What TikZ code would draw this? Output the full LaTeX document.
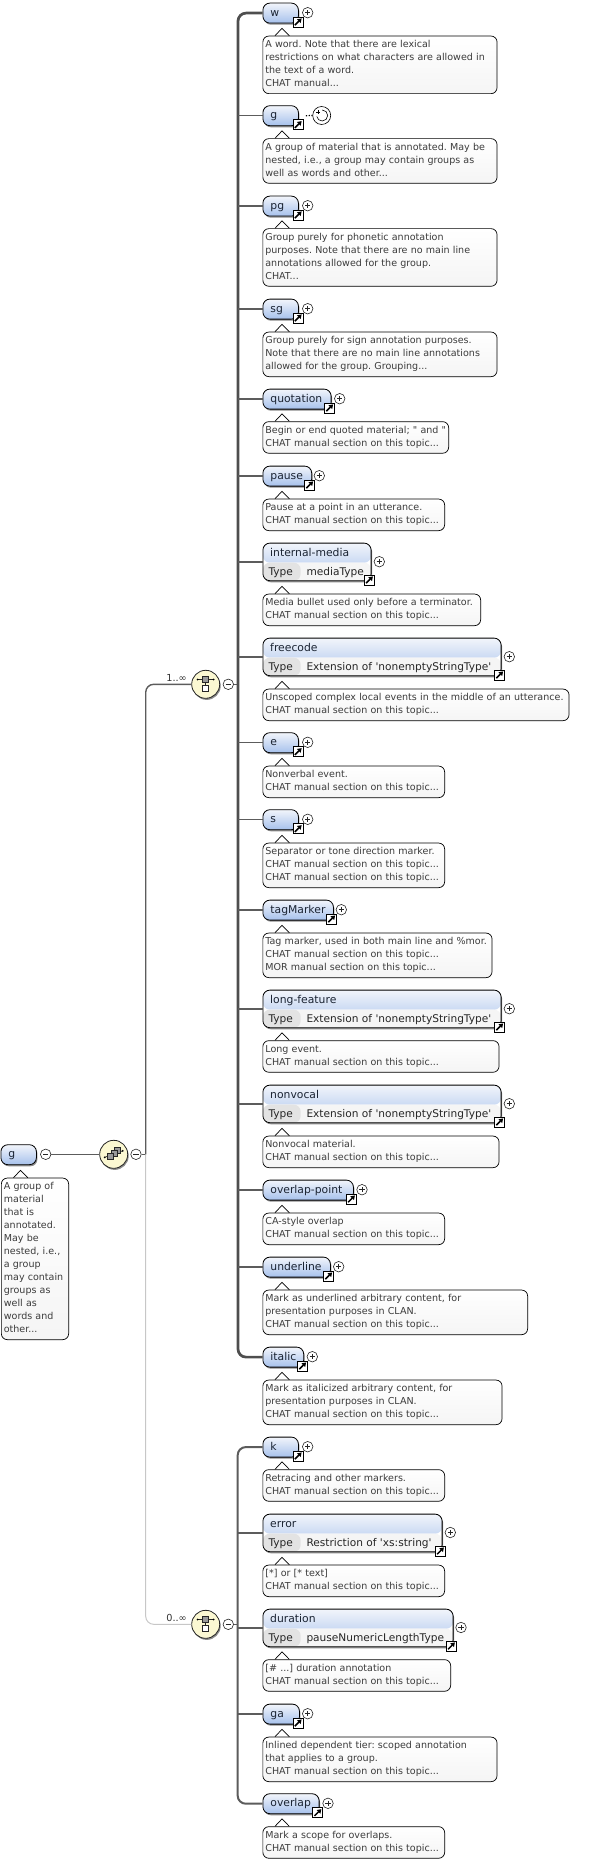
\documentclass[tikz,border=0pt]{standalone}
\usepackage{fontspec}
\usepackage{xcolor}
\usepackage{tikz}
\usetikzlibrary{arrows.meta, shadows}
\newfontfamily\schemafont{DejaVu Sans}
\definecolor{wirecol}{HTML}{5C5C5C}
\definecolor{notetext}{HTML}{3C3C3C}
\definecolor{nametext}{HTML}{1B2433}
\definecolor{elemtop}{HTML}{F2F5FB}
\definecolor{elembottom}{HTML}{A6C1EC}
\definecolor{compfill}{HTML}{FBF8D2}
\tikzset{
	softshadow/.style={drop shadow={shadow xshift=1pt, shadow yshift=-1.6pt, opacity=.45, fill=black}},
	elem/.style={draw=black, line width=.8pt, rounded corners=7pt, anchor=north west, softshadow,
		top color=elemtop, bottom color=elembottom, text=nametext, text width=#1, align=left, inner xsep=7.5pt, inner ysep=0pt,
		minimum height=20pt, font=\schemafont\fontsize{10.8}{13}\selectfont, text height=8.5pt, text depth=2.5pt},
	typed/.style={draw=black, line width=.8pt, rounded corners=7pt, anchor=north west, softshadow, fill=white,
		minimum width=#1, minimum height=37.6pt, inner sep=0pt,
		path picture={
			\shade[top color=elemtop, bottom color=elembottom] (path picture bounding box.north west) rectangle ([yshift=-19.6pt]path picture bounding box.north east);
			\fill[black!4] ([yshift=-19.6pt]path picture bounding box.north west) rectangle (path picture bounding box.south east);
			\fill[black!11] ([yshift=-19.6pt]path picture bounding box.north west) rectangle ([xshift=37.8pt]path picture bounding box.south west);
		}},
	typename/.style={anchor=base west, inner sep=0pt, text=nametext, font=\schemafont\fontsize{10.8}{13}\selectfont},
	typerow/.style={anchor=base west, inner sep=0pt, text=black!85, font=\schemafont\fontsize{10.6}{13}\selectfont},
	doctip/.style={draw=black, line width=.7pt, fill=white},
	docbox/.style={draw=black, line width=.7pt, rounded corners=6pt, anchor=north west, top color=white, bottom color=black!4,
		text=notetext, text width=#1, align=left, inner xsep=2.5pt, inner ysep=2.8pt,
		font=\schemafont\fontsize{9.55}{13}\selectfont\frenchspacing, execute at begin node=\strut, execute at end node=\strut,
		append after command={\pgfextra{\draw[doctip] (\tikzlastnode.north west) ++(12.5,0) -- ++(7,-7.4) -- ++(7.3,7.4);}}},
	btn/.style={circle, draw=black!85, line width=.6pt, fill=white, minimum size=10.5pt, inner sep=0pt},
	plusbtn/.style={btn, path picture={
		\draw[line width=.6pt] ([xshift=2.6pt]path picture bounding box.west) -- ([xshift=-2.6pt]path picture bounding box.east);
		\draw[line width=.6pt] ([yshift=-2.6pt]path picture bounding box.north) -- ([yshift=2.6pt]path picture bounding box.south);}},
	minusbtn/.style={btn, path picture={
		\draw[line width=.6pt] ([xshift=2.6pt]path picture bounding box.west) -- ([xshift=-2.6pt]path picture bounding box.east);}},
	linkicon/.style={rectangle, draw=black, line width=.8pt, fill=white, minimum size=10pt, inner sep=0pt, path picture={
		\draw[line width=1.5pt, -{Triangle[length=4pt, width=5pt]}, shift={(path picture bounding box.center)}] (-3.2,3.2) -- (3.6,-3.6);}},
	loopbtn/.style={circle, draw=black, line width=.6pt, fill=white, minimum size=18pt, inner sep=0pt, path picture={
		\draw[line width=.6pt, shift={(path picture bounding box.center)}] (.5,-5.5) arc[start angle=270, end angle=530, radius=5.5];
		\draw[line width=.8pt, shift={(path picture bounding box.center)}] (-5.5,-3) -- (-1.5,-3) (-3.5,-5) -- (-3.5,-1);}},
	comp/.style={circle, draw=black!85, line width=.8pt, fill=compfill, minimum size=28pt, inner sep=0pt, softshadow},
	compseq/.style={comp, path picture={
		\draw[line width=.7pt, shift={(path picture bounding box.center)}] (-8,-4.8) -- (8,-4.8) (0,-4.8) -- (0,1);
		\fill[black, shift={(path picture bounding box.center)}] (-8,-4.8) circle (1pt) (8,-4.8) circle (1pt);
		\draw[line width=.6pt, fill=black!40, shift={(path picture bounding box.center)}] (-3,-7.8) rectangle (3,-1.8);
		\draw[line width=.7pt, fill=white, shift={(path picture bounding box.center)}] (-3,1) rectangle (3,7);}},
	compstack/.style={comp, path picture={
		\draw[line width=.7pt, shift={(path picture bounding box.center)}] (-9,3) -- (9,-3.5);
		\fill[black, shift={(path picture bounding box.center)}] (-9,3) circle (1pt) (9,-3.5) circle (1pt);
		\draw[line width=.6pt, fill=black!40, shift={(path picture bounding box.center)}] (.5,-7.5) rectangle (6.5,-1.5);
		\draw[line width=.6pt, fill=black!40, shift={(path picture bounding box.center)}] (-2.5,-4.5) rectangle (3.5,1.5);
		\draw[line width=.6pt, fill=black!40, shift={(path picture bounding box.center)}] (-6.5,-1) rectangle (-.5,5);}},
	occurs/.style={anchor=east, inner sep=0pt, text=black!80, font=\schemafont\fontsize{9.7}{13}\selectfont},
	branch/.style={draw=wirecol, line width=1.4pt},
	busone/.style={draw=wirecol!85!black, line width=2.7pt, rounded corners=8pt},
	bustwo/.style={draw=wirecol, line width=2pt, rounded corners=8pt},
	faintbranch/.style={draw=black!22, line width=1pt, rounded corners=8pt}
}
\begin{document}
\begin{tikzpicture}[x=1pt, y=-1pt]
	\useasboundingbox (0, 0) rectangle (592, 1862);
	% Root and compositors:
	\node[elem={20.5pt}](root) at (.5, 1144.3){g};
	\node[docbox={62.3pt}](rootdoc) at (1, 1177.7){A group of\\material\\that is\\annotated.\\May be\\nested, i.e.,\\a group\\may contain\\groups as\\well as\\words and\\other...};
	\node[minusbtn](rootminus) at (45.7, 1154.3){};
	\node[compstack](compR) at (113.7, 1154.3){};
	\node[minusbtn](compRminus) at (136, 1154.3){};
	\coordinate (busR) at (145.7, 1154.3);
	\node[compseq](compA) at (205.7, 684.3){};
	\node[minusbtn](compAminus) at (228.3, 684.3){};
	\coordinate (busA) at (238, 684.3);
	\node[occurs](occursA) at (187, 677.5){1..∞};
	\node[compseq](compB) at (205.7, 1624.3){};
	\node[minusbtn](compBminus) at (228.3, 1624.3){};
	\coordinate (busB) at (237.7, 1624.3);
	\node[occurs](occursB) at (187, 1617.5){0..∞};
	% First group of elements:
	\node[elem={20.5pt}](w) at (262.5, 2.7){w};
	\node[linkicon](wlink) at (298, 22){};
	\node[plusbtn](wplus) at (307.7, 12.7){};
	\node[docbox={229.2pt}](wdoc) at (262.5, 35.7){A word. Note that there are lexical\\restrictions on what characters are allowed in\\the text of a word.\\CHAT manual...};
	\node[elem={20.5pt}](g) at (262.5, 105.3){g};
	\node[linkicon](glink) at (298, 124.7){};
	\node[loopbtn](gloop) at (321.7, 115.5){};
	\node[docbox={229.2pt}](gdoc) at (262.5, 138.3){A group of material that is annotated. May be\\nested, i.e., a group may contain groups as\\well as words and other...};
	\node[elem={20.5pt}](pg) at (262.5, 195.7){pg};
	\node[linkicon](pglink) at (298, 215){};
	\node[plusbtn](pgplus) at (307.7, 205.7){};
	\node[docbox={229.2pt}](pgdoc) at (262.5, 228.3){Group purely for phonetic annotation\\purposes. Note that there are no main line\\annotations allowed for the group.\\CHAT...};
	\node[elem={20.5pt}](sg) at (262.5, 298.7){sg};
	\node[linkicon](sglink) at (298, 318){};
	\node[plusbtn](sgplus) at (307.7, 308.7){};
	\node[docbox={229.2pt}](sgdoc) at (262.5, 331.7){Group purely for sign annotation purposes.\\Note that there are no main line annotations\\allowed for the group. Grouping...};
	\node[elem={53.2pt}](quotation) at (262.5, 388.7){quotation};
	\node[linkicon](quotationlink) at (329.5, 408){};
	\node[plusbtn](quotationplus) at (339.7, 398.7){};
	\node[docbox={180.8pt}](quotationdoc) at (262.5, 421.3){Begin or end quoted material; " and "\\CHAT manual section on this topic...};
	\node[elem={33.8pt}](pause) at (262.5, 465.7){pause};
	\node[linkicon](pauselink) at (309.5, 485){};
	\node[plusbtn](pauseplus) at (319.3, 475.7){};
	\node[docbox={176.8pt}](pausedoc) at (262.5, 498.7){Pause at a point in an utterance.\\CHAT manual section on this topic...};
	\node[typed={108.2pt}](media) at (262.5, 542.7){};
	\node[typename](medianame) at (270, 556){internal-media};
	\node[typerow](medialabel) at (268.3, 575){Type};
	\node[typerow](mediavalue) at (306.3, 575){mediaType};
	\node[linkicon](medialink) at (369.3, 580){};
	\node[plusbtn](mediaplus) at (379.3, 561.7){};
	\node[docbox={212.8pt}](mediadoc) at (262.5, 593.7){Media bullet used only before a terminator.\\CHAT manual section on this topic...};
	\node[typed={238.2pt}](freecode) at (262.5, 637.7){};
	\node[typename](freecodename) at (270, 651){freecode};
	\node[typerow](freecodelabel) at (268.3, 670){Type};
	\node[typerow](freecodevalue) at (306.3, 670){Extension of 'nonemptyStringType'};
	\node[linkicon](freecodelink) at (499.5, 675){};
	\node[plusbtn](freecodeplus) at (509.3, 656.7){};
	\node[docbox={301.2pt}](freecodedoc) at (262.5, 688.7){Unscoped complex local events in the middle of an utterance.\\CHAT manual section on this topic...};
	\node[elem={20.5pt}](e) at (262.5, 732.3){e};
	\node[linkicon](elink) at (298, 751.7){};
	\node[plusbtn](eplus) at (307.7, 742.3){};
	\node[docbox={176.8pt}](edoc) at (262.5, 765.7){Nonverbal event.\\CHAT manual section on this topic...};
	\node[elem={20.5pt}](s) at (262.5, 809.3){s};
	\node[linkicon](slink) at (298, 828.7){};
	\node[plusbtn](splus) at (307.7, 819.3){};
	\node[docbox={176.8pt}](sdoc) at (262.5, 842.7){Separator or tone direction marker.\\CHAT manual section on this topic...\\CHAT manual section on this topic...};
	\node[elem={55.5pt}](tagMarker) at (262.5, 899.7){tagMarker};
	\node[linkicon](tagMarkerlink) at (331.5, 919){};
	\node[plusbtn](tagMarkerplus) at (341.3, 909.7){};
	\node[docbox={224.2pt}](tagMarkerdoc) at (262.5, 932.7){Tag marker, used in both main line and \%mor.\\CHAT manual section on this topic...\\MOR manual section on this topic...};
	\node[typed={238.2pt}](longfeature) at (262.5, 989.7){};
	\node[typename](longfeaturename) at (270, 1003){long-feature};
	\node[typerow](longfeaturelabel) at (268.3, 1022){Type};
	\node[typerow](longfeaturevalue) at (306.3, 1022){Extension of 'nonemptyStringType'};
	\node[linkicon](longfeaturelink) at (499.5, 1027){};
	\node[plusbtn](longfeatureplus) at (509.3, 1008.7){};
	\node[docbox={231.2pt}](longfeaturedoc) at (262.5, 1040.3){Long event.\\CHAT manual section on this topic...};
	\node[typed={238.2pt}](nonvocal) at (262.5, 1084.7){};
	\node[typename](nonvocalname) at (270, 1098){nonvocal};
	\node[typerow](nonvocallabel) at (268.3, 1117){Type};
	\node[typerow](nonvocalvalue) at (306.3, 1117){Extension of 'nonemptyStringType'};
	\node[linkicon](nonvocallink) at (499.5, 1122){};
	\node[plusbtn](nonvocalplus) at (509.3, 1103.7){};
	\node[docbox={231.2pt}](nonvocaldoc) at (262.5, 1135.7){Nonvocal material.\\CHAT manual section on this topic...};
	\node[elem={75.5pt}](overlappoint) at (262.5, 1179.7){overlap-point};
	\node[linkicon](overlappointlink) at (351.3, 1199){};
	\node[plusbtn](overlappointplus) at (362, 1189.7){};
	\node[docbox={176.8pt}](overlappointdoc) at (262.5, 1212.7){CA-style overlap\\CHAT manual section on this topic...};
	\node[elem={52.5pt}](underline) at (262.5, 1256.7){underline};
	\node[linkicon](underlinelink) at (328.5, 1276){};
	\node[plusbtn](underlineplus) at (338.7, 1266.7){};
	\node[docbox={259.8pt}](underlinedoc) at (262.5, 1289.7){Mark as underlined arbitrary content, for\\presentation purposes in CLAN.\\CHAT manual section on this topic...};
	\node[elem={25.8pt}](italic) at (262.5, 1346.7){italic};
	\node[linkicon](italiclink) at (302.5, 1366){};
	\node[plusbtn](italicplus) at (312.3, 1356.7){};
	\node[docbox={234.2pt}](italicdoc) at (262.5, 1379.7){Mark as italicized arbitrary content, for\\presentation purposes in CLAN.\\CHAT manual section on this topic...};
	% Second group of elements:
	\node[elem={20.5pt}](k) at (262.5, 1436.7){k};
	\node[linkicon](klink) at (298, 1456){};
	\node[plusbtn](kplus) at (307.7, 1446.7){};
	\node[docbox={176.8pt}](kdoc) at (262.5, 1469.3){Retracing and other markers.\\CHAT manual section on this topic...};
	\node[typed={179.2pt}](error) at (262.5, 1513.7){};
	\node[typename](errorname) at (270, 1527){error};
	\node[typerow](errorlabel) at (268.3, 1546){Type};
	\node[typerow](errorvalue) at (306.3, 1546){Restriction of 'xs:string'};
	\node[linkicon](errorlink) at (440.3, 1551){};
	\node[plusbtn](errorplus) at (450.3, 1532.5){};
	\node[docbox={176.8pt}](errordoc) at (262.5, 1564.7){[*] or [* text]\\CHAT manual section on this topic...};
	\node[typed={190.2pt}](duration) at (262.5, 1608.7){};
	\node[typename](durationname) at (270, 1622){duration};
	\node[typerow](durationlabel) at (268.3, 1641){Type};
	\node[typerow](durationvalue) at (306.3, 1641){pauseNumericLengthType};
	\node[linkicon](durationlink) at (451.3, 1646){};
	\node[plusbtn](durationplus) at (461, 1627.5){};
	\node[docbox={182.8pt}](durationdoc) at (262.5, 1659.3){[\# ...] duration annotation\\CHAT manual section on this topic...};
	\node[elem={21.5pt}](ga) at (262.5, 1703.7){ga};
	\node[linkicon](galink) at (298, 1723){};
	\node[plusbtn](gaplus) at (307.7, 1713.7){};
	\node[docbox={229.2pt}](gadoc) at (262.5, 1736.7){Inlined dependent tier: scoped annotation\\that applies to a group.\\CHAT manual section on this topic...};
	\node[elem={41.2pt}](overlap) at (262.5, 1793.3){overlap};
	\node[linkicon](overlaplink) at (317.7, 1812.7){};
	\node[plusbtn](overlapplus) at (328, 1803.3){};
	\node[docbox={176.8pt}](overlapdoc) at (262.5, 1826.3){Mark a scope for overlaps.\\CHAT manual section on this topic...};
	% Wires:
	\draw[branch] (rootminus.east) -- (compR.west);
	\draw[branch] (compRminus.east) -- (busR);
	\draw[branch, rounded corners=8pt] (busR) -- (busR |- compA.west) -- (compA.west);
	\draw[faintbranch] (busR) -- (busR |- compB.west) -- (compB.west);
	\draw[branch] (compAminus.east) -- (busA);
	\draw[branch] (compBminus.east) -- (busB);
	\draw[busone] (w.west) -- (busA |- w.west) -- (busA |- italic.west) -- (italic.west);
	\draw[bustwo] (k.west) -- (busB |- k.west) -- (busB |- overlap.west) -- (overlap.west);
	\draw[branch] (busA |- g.west) -- (g.west);
	\draw[branch] (busA |- pg.west) -- (pg.west);
	\draw[branch] (busA |- sg.west) -- (sg.west);
	\draw[branch] (busA |- quotation.west) -- (quotation.west);
	\draw[branch] (busA |- pause.west) -- (pause.west);
	\draw[branch] (busA |- media.west) -- (media.west);
	\draw[branch] (busA |- freecode.west) -- (freecode.west);
	\draw[branch] (busA |- e.west) -- (e.west);
	\draw[branch] (busA |- s.west) -- (s.west);
	\draw[branch] (busA |- tagMarker.west) -- (tagMarker.west);
	\draw[branch] (busA |- longfeature.west) -- (longfeature.west);
	\draw[branch] (busA |- nonvocal.west) -- (nonvocal.west);
	\draw[branch] (busA |- overlappoint.west) -- (overlappoint.west);
	\draw[branch] (busA |- underline.west) -- (underline.west);
	\draw[branch] (busB |- error.west) -- (error.west);
	\draw[branch] (busB |- duration.west) -- (duration.west);
	\draw[branch] (busB |- ga.west) -- (ga.west);
	\draw[line width=1.2pt, dash pattern=on 1.3pt off 1.5pt] (g.east) ++(7, 0) -- (gloop.west);
\end{tikzpicture}
\end{document}
